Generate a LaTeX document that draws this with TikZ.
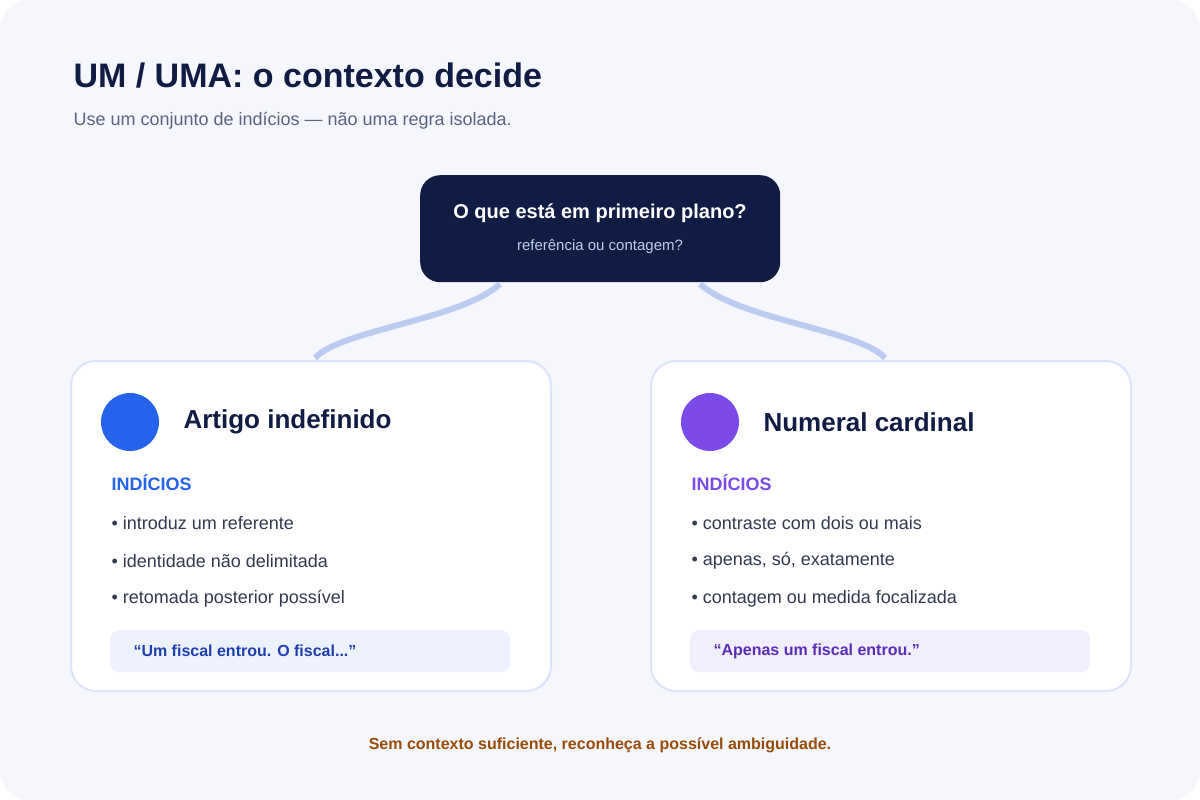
\documentclass[tikz,border=0pt]{standalone}
\usepackage{fontspec}
\setmainfont{Liberation Sans}
\usetikzlibrary{positioning}
\definecolor{navy}{HTML}{111C44}
\definecolor{bgcol}{HTML}{F5F7FC}
\definecolor{linkcol}{HTML}{BCCBF2}
\definecolor{cardline}{HTML}{DDE3F8}
\definecolor{bluec}{HTML}{2563EB}
\definecolor{purplec}{HTML}{7B4AE8}
\definecolor{bodytxt}{HTML}{333A4F}
\definecolor{subtxt}{HTML}{5A6480}
\definecolor{bluebox}{HTML}{EEF2FE}
\definecolor{purplebox}{HTML}{F1EEFD}
\definecolor{bluedark}{HTML}{1E40AF}
\definecolor{purpledark}{HTML}{5B2DB8}
\definecolor{footcol}{HTML}{9A4A0A}
\newcommand{\fs}[1]{\fontsize{#1}{#1}\selectfont}
\tikzset{
  card/.style={draw=cardline, line width=2pt, fill=white, rounded corners=25pt,
    minimum width=480pt, minimum height=330pt, anchor=north west, inner sep=0pt},
  quotebox/.style={rounded corners=9pt, minimum width=400pt, minimum height=42pt,
    anchor=north west, inner sep=0pt},
  bullet/.style={anchor=west, text=bodytxt, font=\fs{18}},
  link/.style={linkcol, line width=6pt},
}
\begin{document}
\begin{tikzpicture}[x=1pt,y=-1pt]
\useasboundingbox (0,0) rectangle (1200,800);
\fill[white] (0,0) rectangle (1200,800);
\fill[bgcol, rounded corners=30pt] (0,0) rectangle (1200,800);

% heading
\node[anchor=west, text=navy, font=\bfseries\fs{34}] (title) at (70,76) {UM / UMA: o contexto decide};
\node[anchor=west, text=subtxt, font=\fs{18}] (sub) at (70,121) {Use um conjunto de indícios — não uma regra isolada.};

% question box
\node[fill=navy, rounded corners=20pt, minimum width=360pt, minimum height=107pt, anchor=north west, inner sep=0pt] (q) at (420,175) {};
\node[text=white, font=\bfseries\fs{20}] (qt) at (600,213) {O que está em primeiro plano?};
\node[text=linkcol, font=\fs{15}] (qs) at (600,247) {referência ou contagem?};

% cards
\node[card] (left) at (70,360) {};
\node[card] (right) at (650,360) {};

\coordinate (qa) at (500,284);
\coordinate (qb) at (700,284);
\coordinate (la) at (315,358);
\coordinate (rb) at (885,358);
\draw[link] (qa) .. controls (460,320) and (340,330) .. (la);
\draw[link] (qb) .. controls (740,320) and (860,330) .. (rb);

% left card
\fill[bluec] (130,422) circle (29);
\node[anchor=west, text=navy, font=\bfseries\fs{26}] (lt) at (180,422) {Artigo indefinido};
\node[anchor=west, text=bluec, font=\bfseries\fs{18}] (li) at (108,483) {INDÍCIOS};
\node[bullet] (l1) at (108,523) {• introduz um referente};
\node[bullet] (l2) at (108,561) {• identidade não delimitada};
\node[bullet] (l3) at (108,599) {• retomada posterior possível};
\node[quotebox, fill=bluebox] (lq) at (110,630) {};
\node[anchor=west, text=bluedark, font=\bfseries\fs{16}] at (130,651) {“Um fiscal entrou. O fiscal...”};

% right card
\fill[purplec] (710,422) circle (29);
\node[anchor=west, text=navy, font=\bfseries\fs{26}] (rt) at (760,422) {Numeral cardinal};
\node[anchor=west, text=purplec, font=\bfseries\fs{18}] (ri) at (688,483) {INDÍCIOS};
\node[bullet] (r1) at (688,523) {• contraste com dois ou mais};
\node[bullet] (r2) at (688,561) {• apenas, só, exatamente};
\node[bullet] (r3) at (688,599) {• contagem ou medida focalizada};
\node[quotebox, fill=purplebox] (rq) at (690,630) {};
\node[anchor=west, text=purpledark, font=\bfseries\fs{16}] at (710,651) {“Apenas um fiscal entrou.”};

% footer
\node[text=footcol, font=\bfseries\fs{16}] (foot) at (600,745) {Sem contexto suficiente, reconheça a possível ambiguidade.};
\end{tikzpicture}
\end{document}
